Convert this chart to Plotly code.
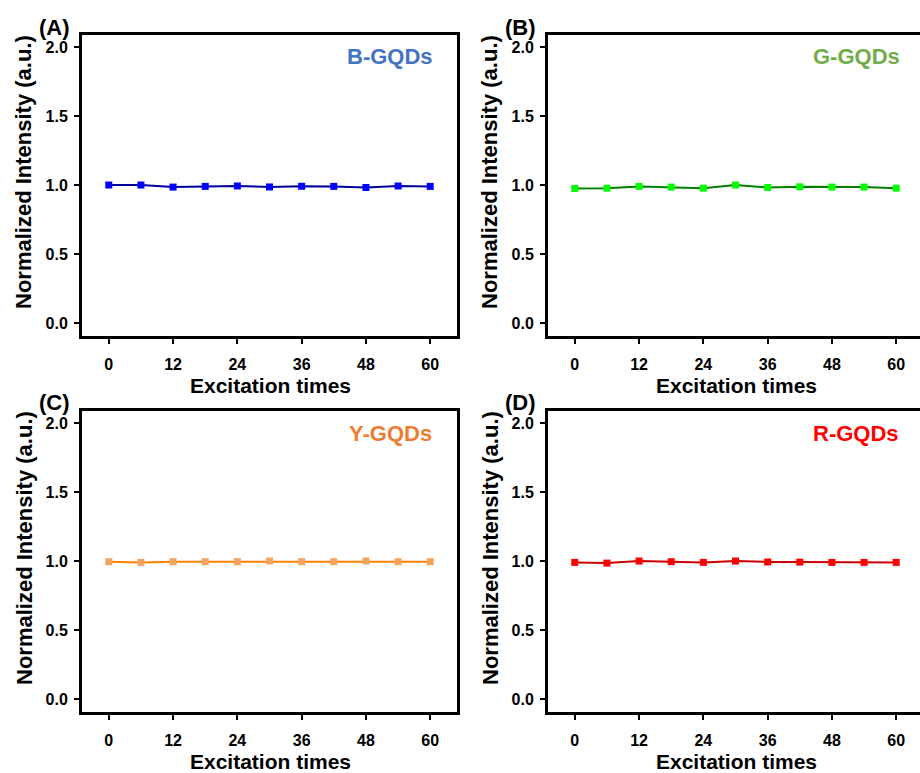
import plotly.graph_objects as go

# Photostability: normalized PL intensity vs. number of excitations
excitation_times = [0, 6, 12, 18, 24, 30, 36, 42, 48, 54, 60]

b_gqds = [1.000, 1.000, 0.985, 0.990, 0.993, 0.986, 0.991, 0.990, 0.982, 0.993, 0.990]
g_gqds = [0.975, 0.977, 0.990, 0.985, 0.977, 1.000, 0.982, 0.987, 0.985, 0.985, 0.977]
y_gqds = [0.995, 0.990, 0.995, 0.995, 0.995, 1.000, 0.995, 0.995, 1.000, 0.995, 0.995]
r_gqds = [0.990, 0.985, 1.000, 0.995, 0.990, 1.000, 0.993, 0.992, 0.990, 0.990, 0.990]

panel_letters = ["(A)", "(B)", "(C)", "(D)"]
sample_names = ["B-GQDs", "G-GQDs", "Y-GQDs", "R-GQDs"]
y_ticks = [0.0, 0.5, 1.0, 1.5, 2.0]
x_ticks = [0, 12, 24, 36, 48, 60]

series = [b_gqds, g_gqds, y_gqds, r_gqds]
line_colors = ["#000099", "#008000", "#FF8000", "#CC0000"]
marker_colors = ["#0000FF", "#00FF00", "#F4A460", "#FF0000"]
name_colors = ["#4472C4", "#70AD47", "#ED7D31", "#FF0000"]

W, H = 920, 773
FONT = "Arial, 'Liberation Sans', sans-serif"

# panel boxes in pixels: (left, top, right, bottom)
boxes = [(82, 35, 457, 336), (548, 35, 920, 336),
         (82, 411, 457, 712), (548, 411, 920, 712)]
px_per_x = 375 / 70.0

fig = go.Figure()
annotations = []

for i, (vals, box) in enumerate(zip(series, boxes)):
    l, t, r, b = box
    ax = "" if i == 0 else str(i + 1)
    fig.add_trace(go.Scatter(
        x=excitation_times, y=vals, mode="lines+markers",
        line=dict(color=line_colors[i], width=2),
        marker=dict(symbol="square", size=7, color=marker_colors[i]),
        xaxis="x" + ax, yaxis="y" + ax, showlegend=False,
    ))
    x_hi = -5 + (r - l) / px_per_x
    common = dict(showgrid=False, zeroline=False, showline=True, linecolor="black",
                  linewidth=3, ticks="outside", ticklen=5, tickwidth=2,
                  tickcolor="black",
                  tickfont=dict(family=FONT, size=16, color="black", weight="bold"))
    fig.layout["xaxis" + ax] = dict(
        domain=[l / W, r / W], range=[-5, x_hi], tickvals=x_ticks,
        anchor="y" + ax, mirror=True, ticklabelstandoff=7, **common)
    fig.layout["yaxis" + ax] = dict(
        domain=[1 - b / H, 1 - t / H], range=[-0.094, 2.087], tickvals=y_ticks,
        tickformat=".1f", anchor="x" + ax, mirror=(r < W), ticklabelstandoff=3,
        **common)

    # panel letter
    annotations.append(dict(
        text=panel_letters[i], x=(l - 10) / W, y=1 - (t - 8) / H,
        xref="paper", yref="paper", xanchor="right", yanchor="middle",
        showarrow=False, font=dict(family=FONT, size=22, color="black", weight="bold")))
    # sample name
    annotations.append(dict(
        text=sample_names[i], x=(l + 308) / W, y=1 - (t + 22) / H,
        xref="paper", yref="paper", xanchor="center", yanchor="middle",
        showarrow=False, font=dict(family=FONT, size=22, color=name_colors[i], weight="bold")))
    # y title
    annotations.append(dict(
        text="Normalized Intensity (a.u.)", x=(l - 58) / W, y=1 - (t + 137) / H,
        xref="paper", yref="paper", xanchor="center", yanchor="middle", textangle=-90,
        showarrow=False, font=dict(family=FONT, size=22, color="black", weight="bold")))
    # x title
    annotations.append(dict(
        text="Excitation times", x=(l + 188) / W, y=1 - (b + 49) / H,
        xref="paper", yref="paper", xanchor="center", yanchor="middle",
        showarrow=False, font=dict(family=FONT, size=21, color="black", weight="bold")))

fig.update_layout(
    width=W, height=H, margin=dict(l=0, r=0, t=0, b=0),
    paper_bgcolor="white", plot_bgcolor="white", annotations=annotations,
)

fig.write_html("out.html")
